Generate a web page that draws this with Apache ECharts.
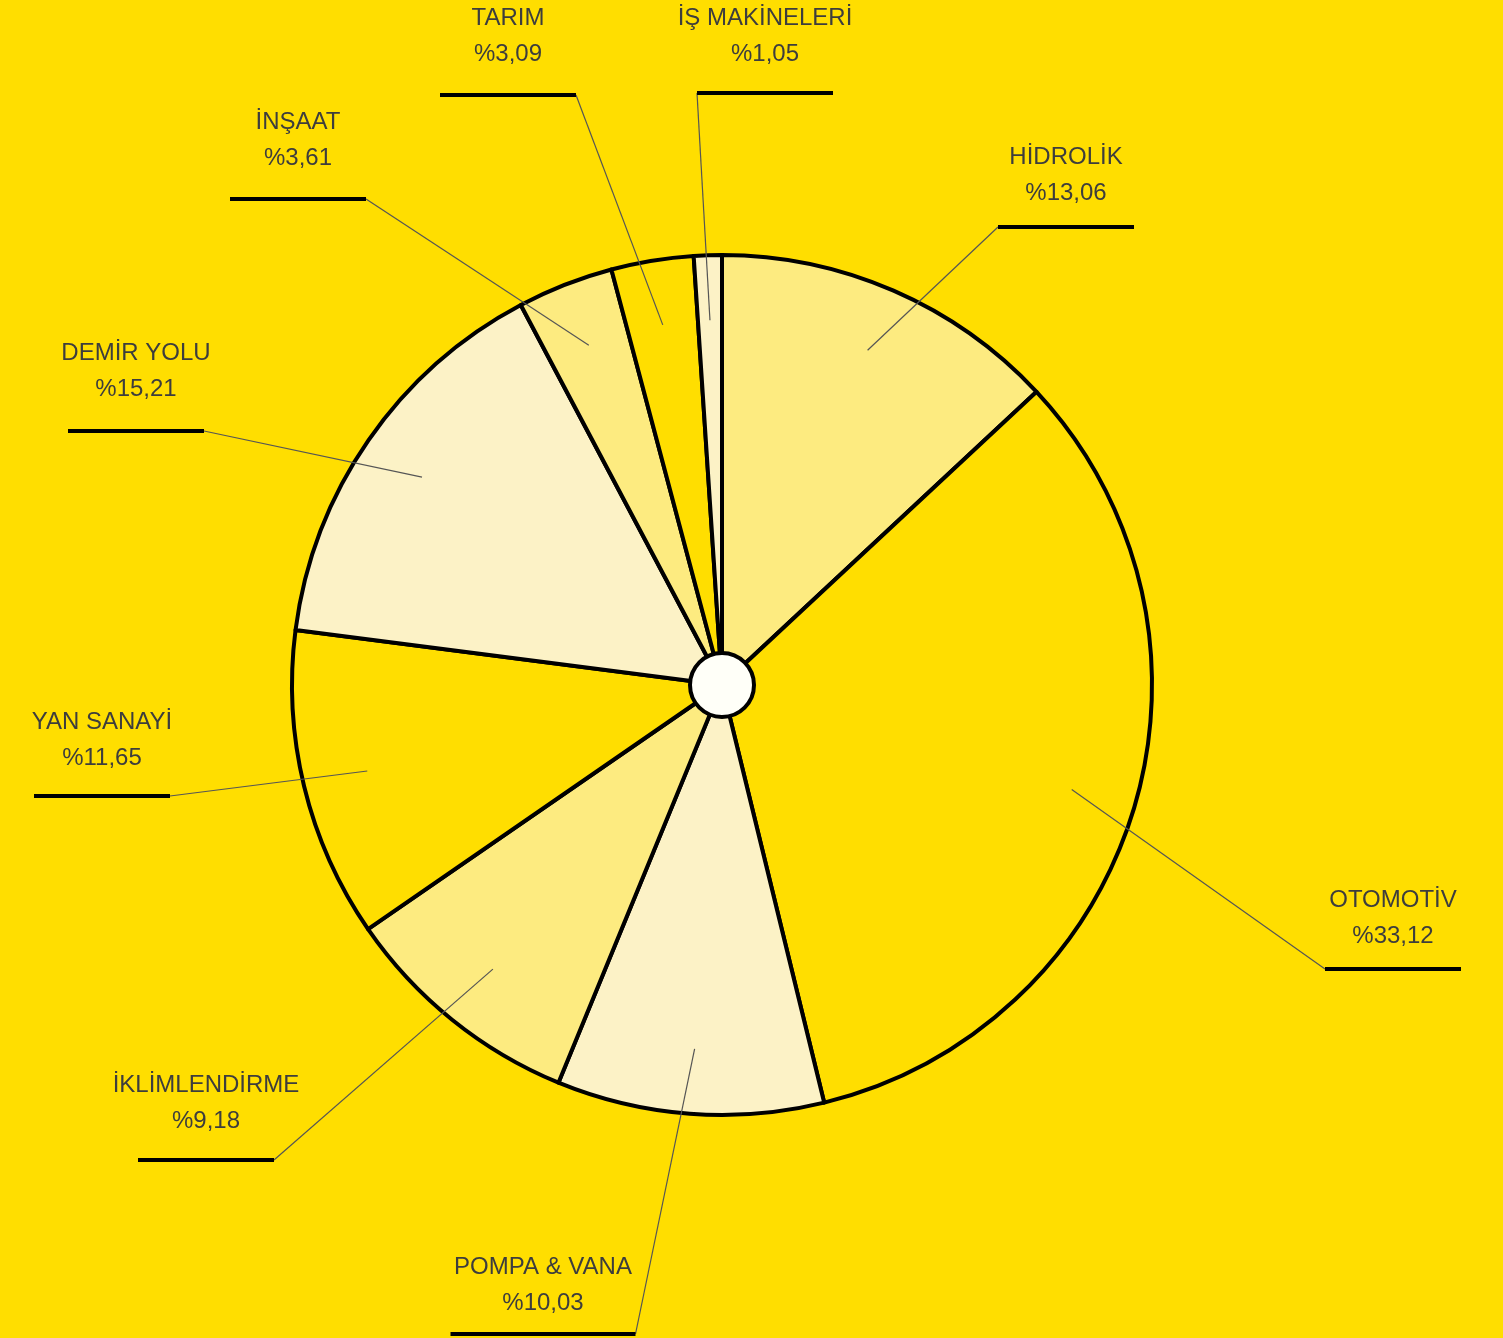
<!DOCTYPE html>
<html>
<head>
<meta charset="UTF-8">
<title>Sektör Dağılımı</title>
<script src="https://cdn.jsdelivr.net/npm/echarts@6/dist/echarts.min.js"></script>
<style>
  html, body { margin: 0; padding: 0; background: #FFDE00; }
  #main { width: 1503px; height: 1338px; }
</style>
</head>
<body>
<div id="main"></div>
<script type="text/javascript">
	// sektör payları (%), saat yönünde, tepeden başlayarak
	const categories = ['HİDROLİK', 'OTOMOTİV', 'POMPA & VANA', 'İKLİMLENDİRME', 'YAN SANAYİ', 'DEMİR YOLU', 'İNŞAAT', 'TARIM', 'İŞ MAKİNELERİ'];
	const shares = [13.06, 33.12, 10.03, 9.18, 11.65, 15.21, 3.61, 3.09, 1.05];

	// dilim renkleri
	const sliceColors = ['#FDEB80', '#FFDE00', '#FCF2C6', '#FDEB80', '#FFDE00', '#FCF2C6', '#FDEB80', '#FFDE00', '#FCF2C6'];

	// etiket yerleşimi: merkez x, başlık y, alt çizgi y, çizginin bağlandığı uç, alt çizgi genişliği
	const labelX = [1066, 1393, 543, 206, 102, 136, 298, 508, 765];
	const nameY = [157, 900, 1267, 1085, 722, 353, 122, 18, 18];
	const ruleY = [227, 969, 1334, 1160, 796, 431, 199, 95, 93];
	const ruleSide = ['L', 'L', 'R', 'R', 'R', 'R', 'R', 'R', 'L'];
	const ruleWidth = [136, 136, 185, 136, 136, 136, 136, 136, 136];

	var echart = echarts.init(document.getElementById('main'));

	function fmt(v) {
		return '%' + v.toFixed(2).replace('.', ',');
	}

	var CENTER = [722, 685];

	var sliceData = categories.map(function (c, i) {
		return { name: c, value: shares[i], itemStyle: { color: sliceColors[i] } };
	});

	var labelData = categories.map(function (c, i) {
		var lh = Math.max(8, 2 * (ruleY[i] - nameY[i] - 54));
		return {
			name: c,
			value: shares[i],
			label: { rich: { u: { width: ruleWidth[i], lineHeight: lh } } }
		};
	});

	var option = {
		backgroundColor: '#FFDE00',
		animation: false,
		series: [
			{
				type: 'pie',
				z: 2,
				center: CENTER,
				radius: [0, 430],
				startAngle: 90,
				silent: true,
				label: { show: false },
				labelLine: { show: false },
				itemStyle: { borderColor: '#000', borderWidth: 4 },
				data: sliceData
			},
			{
				// görünmez dilimler: etiket çizgilerinin çıkış noktası
				type: 'pie',
				z: 3,
				center: CENTER,
				radius: [0, 365],
				startAngle: 90,
				silent: true,
				avoidLabelOverlap: false,
				itemStyle: { color: 'rgba(0,0,0,0)', borderWidth: 0 },
				label: {
					show: true,
					formatter: function (p) {
						return '{n|' + p.name + '}\n{v|' + fmt(p.value) + '}\n{u|}';
					},
					rich: {
						n: { fontFamily: 'Liberation Sans', fontSize: 24, color: '#3d3d3d', lineHeight: 36 },
						v: { fontFamily: 'Liberation Sans', fontSize: 24, color: '#3d3d3d', lineHeight: 36 },
						u: { height: 4, backgroundColor: '#000', width: 136 }
					}
				},
				labelLine: {
					show: true,
					length: 10,
					length2: 10,
					lineStyle: { color: '#555', width: 1.2 }
				},
				labelLayout: function (params) {
					var i = params.dataIndex;
					var half = ruleWidth[i] / 2;
					var endX = ruleSide[i] === 'L' ? labelX[i] - half : labelX[i] + half;
					var start = params.labelLinePoints ? params.labelLinePoints[0] : [endX, ruleY[i]];
					return {
						x: labelX[i],
						y: nameY[i] - 18,
						align: 'center',
						verticalAlign: 'top',
						labelLinePoints: [start, [endX, ruleY[i]]]
					};
				},
				data: labelData
			},
			{
				// merkezdeki beyaz daire
				type: 'pie',
				z: 4,
				center: CENTER,
				radius: [0, 32],
				silent: true,
				label: { show: false },
				labelLine: { show: false },
				itemStyle: { color: '#FFFFF8', borderColor: '#000', borderWidth: 4 },
				data: [{ name: 'merkez', value: 1 }]
			}
		]
	};

	echart.setOption(option, true);
</script>
</body>
</html>
